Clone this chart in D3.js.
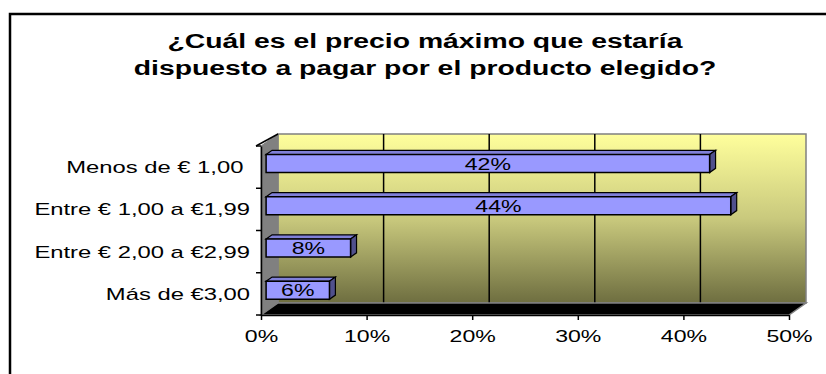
<!DOCTYPE html>
<html lang="es">
<head>
<meta charset="UTF-8">
<title>Precio máximo</title>
<script src="https://d3js.org/d3.v7.min.js"></script>
<style>
  body { margin: 0; background: #fff; }
  svg { display: block; font-family: Arial, "Liberation Sans", sans-serif; }
</style>
</head>
<body>
<div id="chart"></div>
<script>
// data
const titleLines = ["¿Cuál es el precio máximo que estaría", "dispuesto a pagar por el producto elegido?"];
const categories = ["Menos de € 1,00 ", "Entre € 1,00 a €1,99", "Entre € 2,00 a €2,99", "Más de €3,00"];
const values = [42, 44, 8, 6];
const xTicks = [0, 10, 20, 30, 40, 50];

const W = 826, H = 374;
const SX = 1.4; // text in the original is stretched sideways

// plot frame (front face), depth offset of the 3d box
const plotL = 261, plotR = 789, plotT = 146, plotB = 315;
const DX = 17, DY = -12;
const barD0 = 0.3, barD1 = 0.65; // bar depth inside the box
const barH = 18;

const svg = d3.select("#chart").append("svg")
  .attr("width", W).attr("height", H);

svg.append("rect")
  .attr("x", 10).attr("y", 14).attr("width", 840).attr("height", 400)
  .attr("fill", "#fff").attr("stroke", "#000").attr("stroke-width", 2.5);

// title
svg.selectAll(".title").data(titleLines).enter().append("text")
  .attr("class", "title")
  .attr("transform", (d, i) => `translate(425,${48 + i * 27}) scale(1.35,1)`)
  .attr("text-anchor", "middle")
  .attr("font-size", 21).attr("font-weight", "bold")
  .text(d => d);

const x = d3.scaleLinear().domain([0, 50]).range([plotL, plotR]);
const y = d3.scaleBand().domain(categories).range([plotT, plotB]);

const defs = svg.append("defs");
const grad = defs.append("linearGradient").attr("id", "wall")
  .attr("x1", 0).attr("y1", 0).attr("x2", 0).attr("y2", 1);
grad.selectAll("stop").data([
  { o: "0%", c: "#FFFF9C" },
  { o: "50%", c: "#C9C97D" },
  { o: "100%", c: "#6E6E40" }
]).enter().append("stop").attr("offset", d => d.o).attr("stop-color", d => d.c);

const pt = (px, py, d) => [px + d * DX, py + d * DY];
const poly = pts => pts.map(p => p.join(",")).join(" ");

// back wall
svg.append("rect")
  .attr("x", plotL + DX).attr("y", plotT + DY)
  .attr("width", plotR - plotL).attr("height", plotB - plotT)
  .attr("fill", "url(#wall)").attr("stroke", "#808080").attr("stroke-width", 1.5);

// gridlines on back wall
svg.selectAll(".grid").data(xTicks.slice(1, -1)).enter().append("line")
  .attr("x1", d => x(d) + DX).attr("x2", d => x(d) + DX)
  .attr("y1", plotT + DY).attr("y2", plotB + DY)
  .attr("stroke", "#000").attr("stroke-width", 1.5);

// side wall
svg.append("polygon")
  .attr("points", poly([pt(plotL, plotT, 0), pt(plotL, plotT, 1), pt(plotL, plotB, 1), pt(plotL, plotB, 0)]))
  .attr("fill", "#808080").attr("stroke", "#808080");
svg.append("line")
  .attr("x1", plotL - 5).attr("y1", plotT).attr("x2", plotL + DX).attr("y2", plotT + DY)
  .attr("stroke", "#000").attr("stroke-width", 1.5);

// floor
svg.append("polygon")
  .attr("points", poly([pt(plotL, plotB, 0), pt(plotL, plotB, 1), pt(plotR, plotB, 1), pt(plotR, plotB, 0)]))
  .attr("fill", "#000").attr("stroke", "#808080").attr("stroke-width", 1.5);

// bars
const bars = svg.selectAll(".bar").data(values).enter().append("g").attr("class", "bar");
const by = (d, i) => y(categories[i]) + y.bandwidth() / 2 - barH / 2;

bars.append("polygon") // top face
  .attr("points", (d, i) => poly([
    pt(x(0), by(d, i), barD0), pt(x(0), by(d, i), barD1),
    pt(x(d), by(d, i), barD1), pt(x(d), by(d, i), barD0)]))
  .attr("fill", "#8080D8").attr("stroke", "#000").attr("stroke-width", 1.2);
bars.append("polygon") // end face
  .attr("points", (d, i) => poly([
    pt(x(d), by(d, i), barD0), pt(x(d), by(d, i), barD1),
    pt(x(d), by(d, i) + barH, barD1), pt(x(d), by(d, i) + barH, barD0)]))
  .attr("fill", "#50508C").attr("stroke", "#000").attr("stroke-width", 1.2);
bars.append("polygon") // front face
  .attr("points", (d, i) => poly([
    pt(x(0), by(d, i), barD0), pt(x(d), by(d, i), barD0),
    pt(x(d), by(d, i) + barH, barD0), pt(x(0), by(d, i) + barH, barD0)]))
  .attr("fill", "#9999FF").attr("stroke", "#000").attr("stroke-width", 1.5);

bars.append("text")
  .attr("transform", (d, i) => {
    const p = pt((x(0) + x(d)) / 2, by(d, i) + barH / 2, barD0);
    return `translate(${p[0]},${p[1] + 6}) scale(${SX},1)`;
  })
  .attr("text-anchor", "middle").attr("font-size", 16.5).attr("fill", "#000")
  .text(d => d + "%");

// x axis
const xAxis = svg.append("g")
  .attr("transform", `translate(0,${plotB})`)
  .call(d3.axisBottom(x).tickValues(xTicks).tickFormat(d => d + "%").tickSize(5).tickSizeOuter(0));
xAxis.select(".domain").attr("stroke", "#000").attr("stroke-width", 1.5);
xAxis.selectAll("line").attr("stroke", "#000").attr("stroke-width", 1.5);
xAxis.selectAll("text")
  .attr("y", 0).attr("dy", null)
  .attr("transform", `translate(0,27) scale(${SX},1)`)
  .attr("font-family", null).attr("font-size", 16.5).attr("fill", "#000");

// y axis
const yAxis = svg.append("g")
  .attr("transform", `translate(${plotL},0)`)
  .call(d3.axisLeft(y).tickSize(0).tickSizeOuter(0));
yAxis.select(".domain").attr("stroke", "#000").attr("stroke-width", 1.5);
yAxis.selectAll("text")
  .attr("x", 0).attr("dy", "0.35em")
  .attr("transform", `translate(-11,0) scale(${SX},1)`)
  .style("white-space", "pre")
  .attr("font-family", null).attr("font-size", 17).attr("fill", "#000");

// category boundary ticks
const bounds = categories.map(c => y(c)).concat([plotB]);
svg.selectAll(".ytick").data(bounds).enter().append("line")
  .attr("x1", plotL - 5).attr("x2", plotL)
  .attr("y1", d => d).attr("y2", d => d)
  .attr("stroke", "#000").attr("stroke-width", 1.5);
</script>
</body>
</html>
